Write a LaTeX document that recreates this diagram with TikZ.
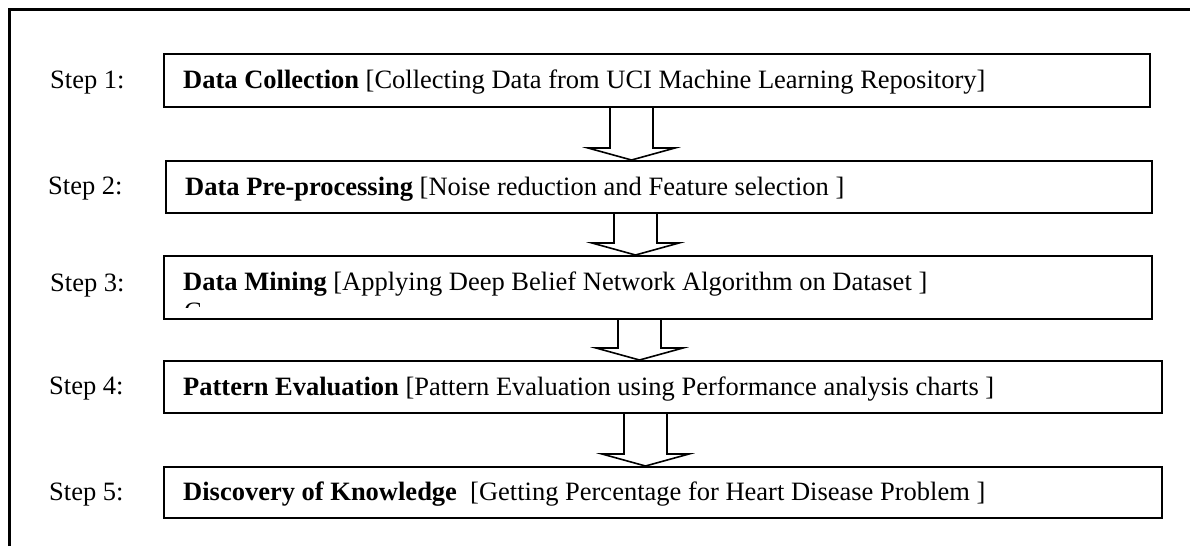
\documentclass[tikz,border=0pt]{standalone}
\usepackage{fontspec}
\setmainfont{Liberation Serif}
\usetikzlibrary{calc}
\begin{document}
\begin{tikzpicture}[x=1pt,y=-1pt,
  stepbox/.style={draw, line width=1.6pt, rectangle, inner sep=0pt, anchor=north west},
  txt/.style={anchor=base west, inner sep=0pt, font=\fontsize{26.5}{30}\selectfont},
  blockline/.style={draw, line width=1.6pt, line join=miter},
  frameline/.style={draw, line width=3pt, line cap=butt, line join=miter}]
  \useasboundingbox (0,0) rectangle (1190,546);

  % outer frame (only its top and left sides fall inside the page)
  \coordinate (fbl) at (9,546);
  \coordinate (ftl) at (9,9);
  \coordinate (ftr) at (1190,9);
  \draw[frameline] (fbl) -- (ftl) -- (ftr);

  % step boxes
  \node[stepbox, minimum width=986pt, minimum height=53pt] (b1) at (163,53) {};
  \node[stepbox, minimum width=986pt, minimum height=52pt] (b2) at (165,160) {};
  \node[stepbox, minimum width=988pt, minimum height=63pt] (b3) at (163,255) {};
  \node[stepbox, minimum width=998pt, minimum height=52pt] (b4) at (163,360) {};
  \node[stepbox, minimum width=998pt, minimum height=51pt] (b5) at (163,466) {};

  % step labels
  \node[txt] (s1) at (50,88) {Step 1:};
  \node[txt] (s2) at (48,194) {Step 2:};
  \node[txt] (s3) at (50,291) {Step 3:};
  \node[txt] (s4) at (49,394) {Step 4:};
  \node[txt] (s5) at (49,500) {Step 5:};

  % box texts
  \node[txt] (t1) at (183,88) {\bfseries Data Collection \mdseries[Collecting Data from UCI Machine Learning Repository]};
  \node[txt] (t2) at (185,195) {\bfseries Data Pre-processing \mdseries[Noise reduction and Feature selection ]};
  \node[txt] (t3) at (183,290) {\bfseries Data Mining \mdseries[Applying Deep Belief Network Algorithm on Dataset ]};
  \node[txt] (t4) at (183,395) {\bfseries Pattern Evaluation \mdseries[Pattern Evaluation using Performance analysis charts ]};
  \node[txt] (t5) at (183,500) {\bfseries Discovery of Knowledge\mdseries\ \ [Getting Percentage for Heart Disease Problem ]};

  % overflowing second line of the third box, cut off by the text area
  \begin{scope}
    \clip (b3.north west) rectangle (1151,307);
    \node[txt] (t3b) at (184,320) {C};
  \end{scope}

  % hollow block arrows between consecutive boxes
  \newcommand\blockarrow[3]{%
    \coordinate (#1top) at ($(#1.south west)+(#3,0)$);
    \coordinate (#1tip) at (#1top |- #2.north);
    \draw[blockline] ($(#1top)+(-21.5,0)$) -- ($(#1tip)+(-21.5,-12)$)
      -- ($(#1tip)+(-43.5,-12)$) -- (#1tip) -- ($(#1tip)+(43.5,-12)$)
      -- ($(#1tip)+(21.5,-12)$) -- ($(#1top)+(21.5,0)$);
  }
  \blockarrow{b1}{b2}{468.5}
  \blockarrow{b2}{b3}{470.5}
  \blockarrow{b3}{b4}{476.5}
  \blockarrow{b4}{b5}{482.5}
\end{tikzpicture}
\end{document}
